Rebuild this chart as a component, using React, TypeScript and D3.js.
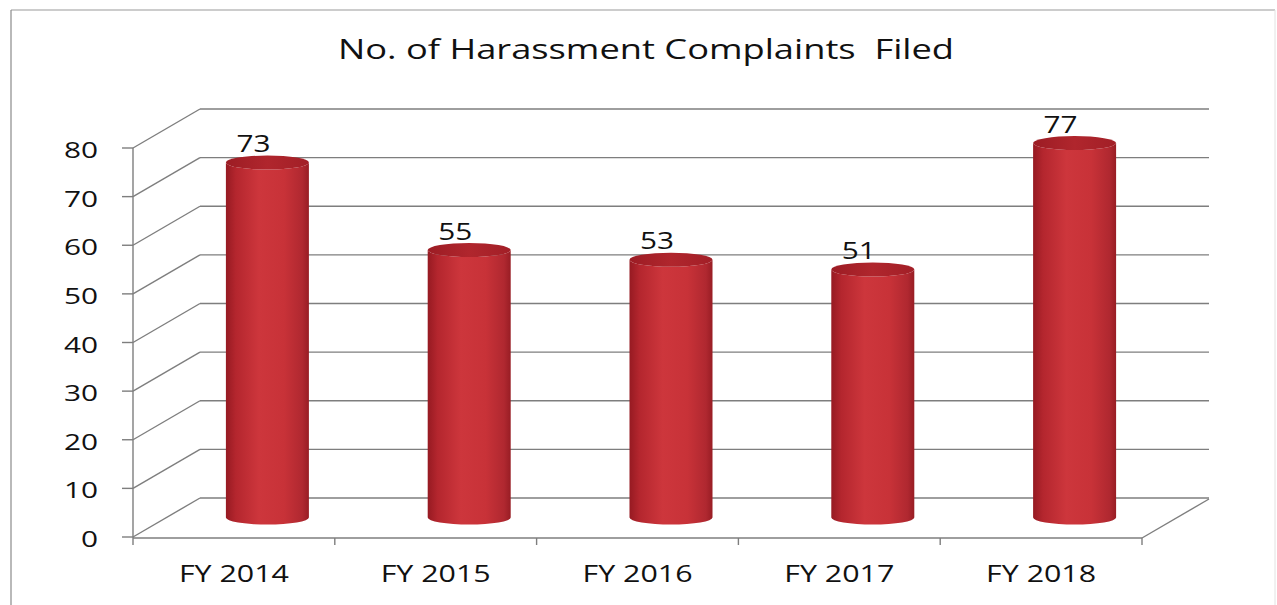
import React from "react";
import * as d3 from "d3";

const categories: string[] = ["FY 2014", "FY 2015", "FY 2016", "FY 2017", "FY 2018"];
const complaints: number[] = [73, 55, 53, 51, 77];
const yTicks: number[] = [0, 10, 20, 30, 40, 50, 60, 70, 80];
const chartTitle = "No. of Harassment Complaints  Filed";

const W = 1277;
const H = 605;

export default function App() {
  // front plane
  const x0 = 133;
  const x1 = 1142;
  const y0 = 537;
  const depthDx = 67;
  const depthDy = -39;

  const xScale = d3.scaleBand<string>().domain(categories).range([x0, x1]).padding(0);
  const yScale = d3.scaleLinear().domain([0, 80]).range([y0, y0 - 389]);

  const rx = 41.5;
  const ry = 7;
  const midDx = depthDx / 2;
  const midDy = depthDy / 2;

  const grid = "#7e7e7e";
  const font = "'Open Sans', 'Liberation Sans', sans-serif";

  const boundaries = categories.map((c) => xScale(c) as number).concat([x1]);

  return (
    <svg width={W} height={H} style={{ display: "block", position: "absolute", left: 0, top: 0 }}>
      <defs>
        <linearGradient id="cylBody" x1="0" y1="0" x2="1" y2="0">
          <stop offset="0%" stopColor="#961a22" />
          <stop offset="12%" stopColor="#b4262e" />
          <stop offset="40%" stopColor="#cd363c" />
          <stop offset="70%" stopColor="#c83238" />
          <stop offset="92%" stopColor="#b02830" />
          <stop offset="100%" stopColor="#981d24" />
        </linearGradient>
        <linearGradient id="cylTop" x1="0" y1="0" x2="1" y2="0">
          <stop offset="0%" stopColor="#9c1c24" />
          <stop offset="50%" stopColor="#b0262d" />
          <stop offset="100%" stopColor="#a21f27" />
        </linearGradient>
      </defs>
      <rect x={0} y={0} width={W} height={H} fill="#ffffff" />
      {/* outer border */}
      <line x1={11} y1={10} x2={1275} y2={10} stroke="#9a9a9a" strokeWidth={1.2} />
      <line x1={11} y1={10} x2={11} y2={605} stroke="#8a8a8a" strokeWidth={1.2} />
      <line x1={1275} y1={10} x2={1275} y2={605} stroke="#e2e2e2" strokeWidth={1} />

      {/* title */}
      <text
        x={338}
        y={59}
        fontFamily={font}
        fontSize={28}
        fill="#111"
        textLength={616}
        lengthAdjust="spacingAndGlyphs"
        style={{ whiteSpace: "pre" }}
      >
        {chartTitle}
      </text>

      {/* gridlines: left diagonal + back wall */}
      {yTicks.map((t) => {
        const yf = yScale(t);
        return (
          <g key={"g" + t}>
            <line x1={x0} y1={yf} x2={x0 + depthDx} y2={yf + depthDy} stroke={grid} strokeWidth={1.4} />
            <line x1={x0 + depthDx} y1={yf + depthDy} x2={x1 + depthDx} y2={yf + depthDy} stroke={grid} strokeWidth={1.4} />
            <line x1={x0 - 11} y1={yf} x2={x0} y2={yf} stroke={grid} strokeWidth={1.4} />
          </g>
        );
      })}
      {/* floor right diagonal */}
      <line x1={x1} y1={y0 + 1} x2={x1 + depthDx} y2={y0 + 1 + depthDy} stroke={grid} strokeWidth={1.4} />
      {/* front axes */}
      <line x1={x0} y1={yScale(80)} x2={x0} y2={y0 + 1} stroke={grid} strokeWidth={1.4} />
      <line x1={x0} y1={y0 + 1} x2={x1} y2={y0 + 1} stroke={grid} strokeWidth={1.4} />
      {boundaries.map((b, i) => (
        <line key={"b" + i} x1={b} y1={y0 + 1} x2={b} y2={y0 + 8} stroke={grid} strokeWidth={1.4} />
      ))}

      {/* y tick labels */}
      {yTicks.map((t) => (
        <text
          key={"t" + t}
          transform={`translate(98, ${yScale(t) + 10}) scale(1.42, 1)`}
          textAnchor="end"
          fontFamily={font}
          fontSize={21}
          fill="#111"
        >
          {t}
        </text>
      ))}

      {/* cylinders */}
      {complaints.map((v, i) => {
        const cx = (xScale(categories[i]) as number) + xScale.bandwidth() / 2 + midDx;
        const yTop = yScale(v) + midDy;
        const yBot = yScale(0) + midDy;
        const body = `M${cx - rx},${yTop} L${cx - rx},${yBot} A${rx},${ry} 0 0 0 ${cx + rx},${yBot} L${cx + rx},${yTop} A${rx},${ry} 0 0 1 ${cx - rx},${yTop} Z`;
        return (
          <g key={"c" + i}>
            <path d={body} fill="url(#cylBody)" />
            <ellipse cx={cx} cy={yTop} rx={rx} ry={ry} fill="url(#cylTop)" />
          </g>
        );
      })}

      {/* value labels */}
      {complaints.map((v, i) => {
        const cx = (xScale(categories[i]) as number) + xScale.bandwidth() / 2 + midDx - 14;
        const yTop = yScale(v) + midDy - ry - 3.5;
        return (
          <text
            key={"v" + i}
            x={cx - 17}
            y={yTop}
            fontFamily={font}
            fontSize={24}
            fill="#111"
            textLength={34}
            lengthAdjust="spacingAndGlyphs"
          >
            {v}
          </text>
        );
      })}

      {/* x labels */}
      {categories.map((c) => {
        const cx = (xScale(c) as number) + xScale.bandwidth() / 2;
        return (
          <text
            key={"x" + c}
            x={cx - 55}
            y={582}
            fontFamily={font}
            fontSize={24}
            fill="#111"
            textLength={110}
            lengthAdjust="spacingAndGlyphs"
          >
            {c}
          </text>
        );
      })}
    </svg>
  );
}
